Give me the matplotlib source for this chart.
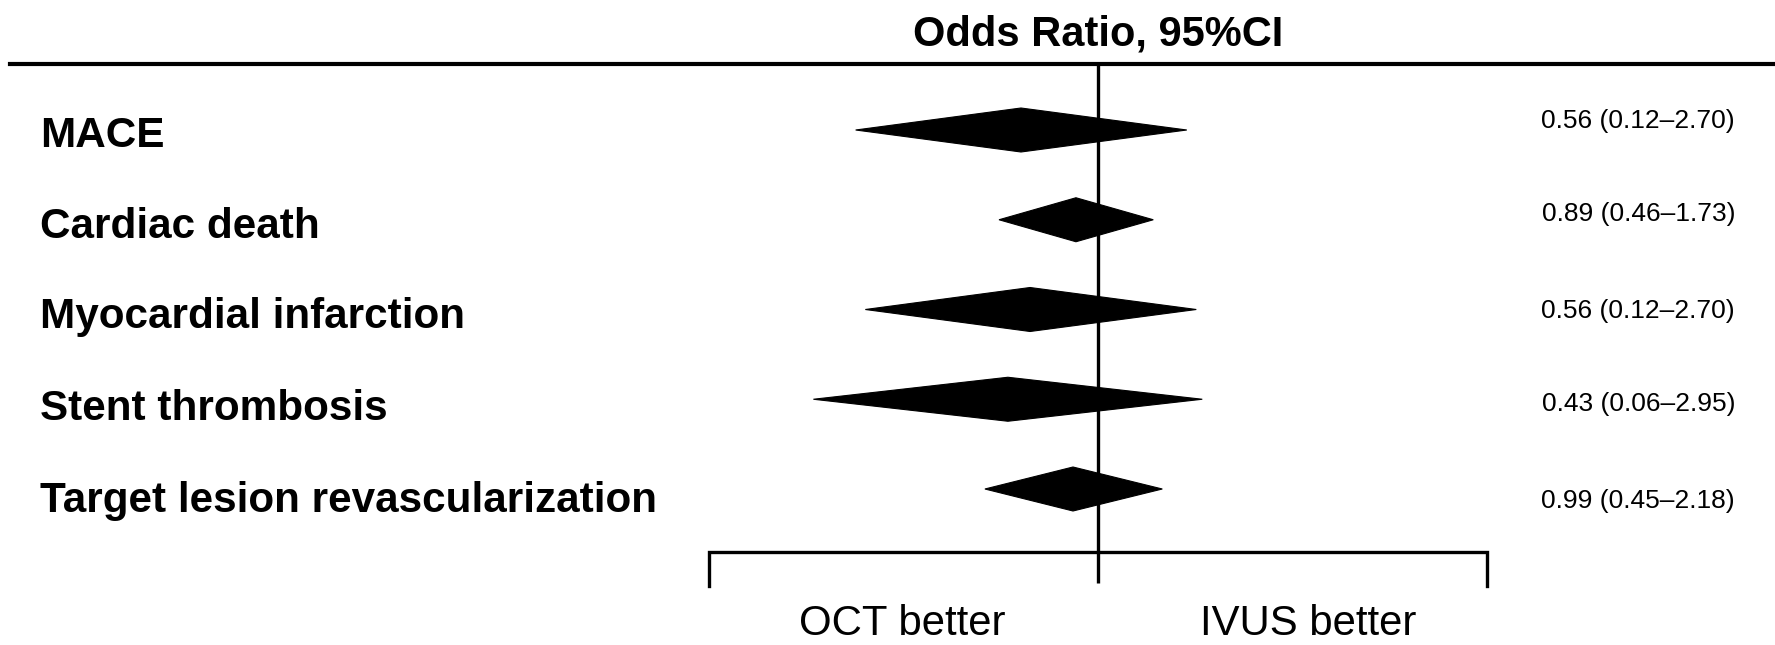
import numpy as np
import matplotlib
matplotlib.use("Agg")
import matplotlib.pyplot as plt
from matplotlib.patches import Polygon

# ---------------- data ----------------
outcomes = ["MACE", "Cardiac death", "Myocardial infarction",
            "Stent thrombosis", "Target lesion revascularization"]
or_est = [0.56, 0.89, 0.56, 0.43, 0.99]
ci_low = [0.12, 0.46, 0.12, 0.06, 0.45]
ci_high = [2.70, 1.73, 2.70, 2.95, 2.18]
# diamond extents as drawn in the picture (odds-ratio scale)
diamond_low = [0.155, 0.467, 0.167, 0.112, 0.419]
diamond_mid = [0.553, 0.844, 0.593, 0.500, 0.825]
diamond_high = [1.98, 1.53, 2.13, 2.23, 1.64]
bracket_limits = [0.05, 20.0]
favours = ["OCT better", "IVUS better"]
title = "Odds Ratio, 95%CI"

# ---------------- layout ----------------
W, H = 1775, 645
DPI = 100
FONT = "Liberation Sans"
fig = plt.figure(figsize=(W / DPI, H / DPI), dpi=DPI)
ax = fig.add_axes([0, 0, 1, 1])
ax.set_xscale("log")
px_per_ln = 130.0
x_ref_px = 1098.0
ax.set_xlim(np.exp(-x_ref_px / px_per_ln), np.exp((W - x_ref_px) / px_per_ln))
row0_px, row_step = 130.0, 89.75
ax.set_ylim((H - row0_px) / row_step, -row0_px / row_step)
ax.axis("off")


def py(p):
    """pixel row (from top) -> data y"""
    return (p - row0_px) / row_step


def fx(p):
    return p / W


def fy(p):
    return 1 - p / H


# top rule and title
ax.add_line(plt.Line2D([fx(10), 1.0], [fy(64), fy(64)], transform=fig.transFigure,
                       color="black", lw=3.0))
fig.text(fx(1098), fy(35), title, ha="center", va="center", fontsize=30,
         fontweight="bold", family=FONT)

# vertical reference line at OR = 1
ax.plot([1, 1], [py(64), py(583)], color="black", lw=2.4, solid_capstyle="butt")

# diamonds
half_h = 22.0 / row_step
for i in range(len(outcomes)):
    verts = [(diamond_low[i], i), (diamond_mid[i], i - half_h),
             (diamond_high[i], i), (diamond_mid[i], i + half_h)]
    ax.add_patch(Polygon(verts, closed=True, facecolor="black", edgecolor="black",
                         lw=0.8, zorder=3))

# labels
label_px = [136, 227, 317, 409, 501]
for lab, p in zip(outcomes, label_px):
    fig.text(fx(40), fy(p), lab, ha="left", va="center", fontsize=30.4,
             fontweight="bold", family=FONT)

value_px = [121, 214, 311, 404, 501]
for o, l, h, p in zip(or_est, ci_low, ci_high, value_px):
    fig.text(fx(1735), fy(p), f"{o:.2f} ({l:.2f}\u2013{h:.2f})", ha="right",
             va="center", fontsize=19, family=FONT)

# bracket
yb, yt = py(552), py(586)
ax.plot([bracket_limits[0], bracket_limits[0], bracket_limits[1], bracket_limits[1]],
        [yt, yb, yb, yt], color="black", lw=2.4, solid_joinstyle="miter")

fig.text(fx(902), fy(644), favours[0], ha="center", va="bottom", fontsize=30.2,
         family=FONT)
fig.text(fx(1308), fy(644), favours[1], ha="center", va="bottom", fontsize=30.2,
         family=FONT)

fig.savefig("out.png", dpi=DPI, facecolor="white")
